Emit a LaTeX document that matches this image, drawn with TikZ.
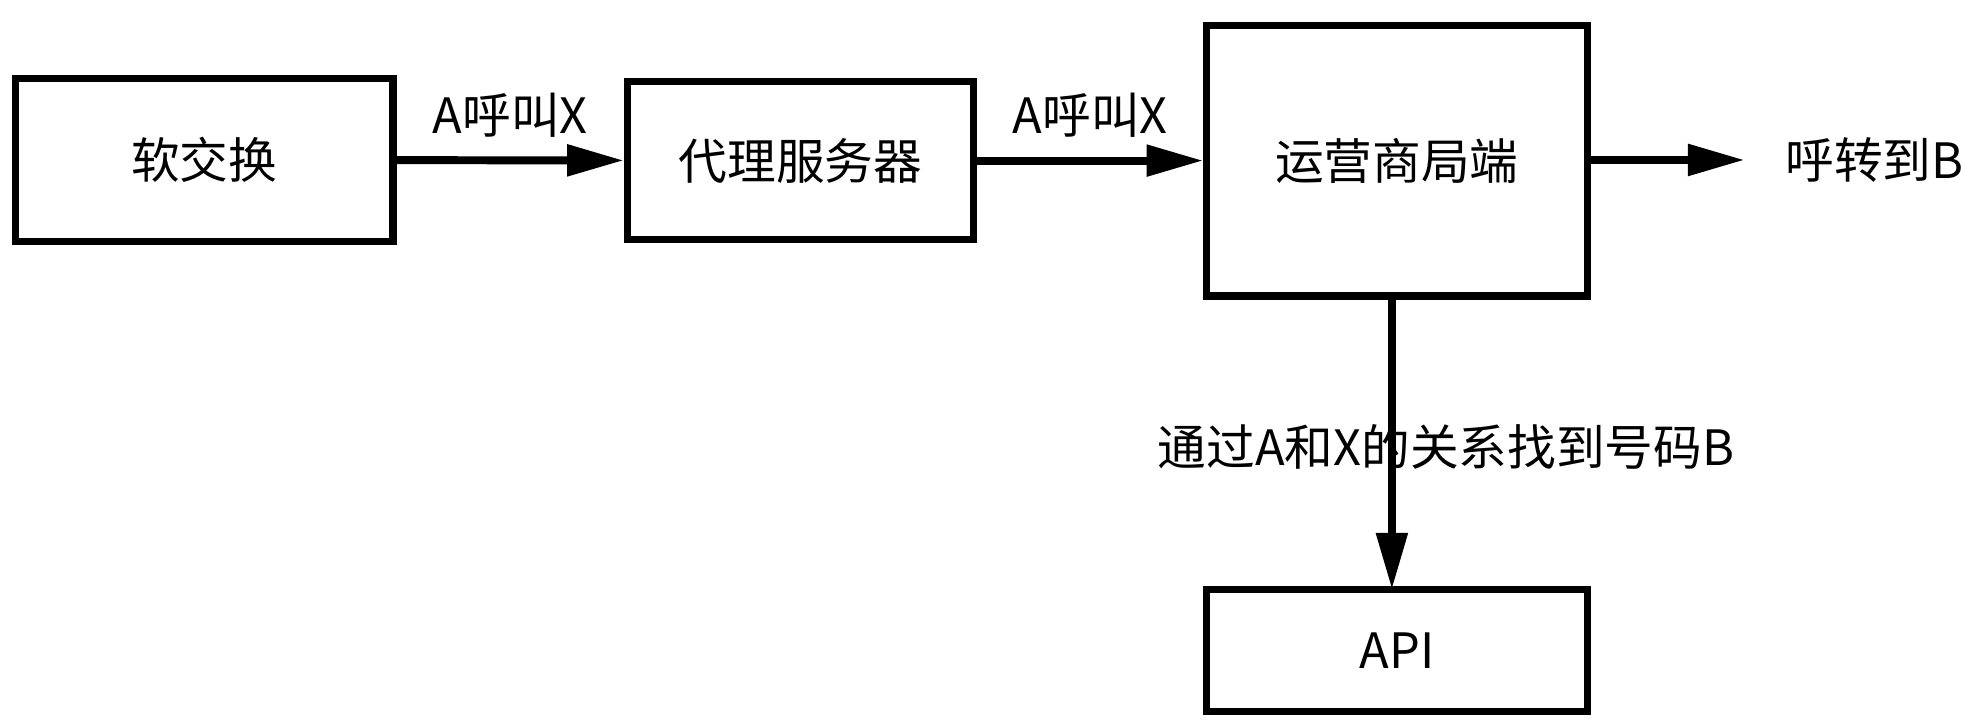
\documentclass[tikz,border=0pt]{standalone}
\usepackage{fontspec}
\setmainfont{Noto Sans CJK SC}
\usetikzlibrary{positioning,arrows.meta}

\tikzset{
  blk/.style={draw,line width=1.6pt,inner sep=0pt,font=\fontsize{11pt}{12pt}\selectfont},
  conn/.style={line width=1.8pt,-{Triangle[length=0.45cm,width=0.24cm]}},
  lbl/.style={font=\fontsize{11pt}{12pt}\selectfont}
}

\begin{document}
\begin{tikzpicture}
    \useasboundingbox (0,0) rectangle (15.6,-5.75);

    \node[blk,minimum width=3.0cm,minimum height=1.3cm] (soft) at (1.62,-1.27) {软交换};
    \node[blk,minimum width=2.75cm,minimum height=1.25cm] (proxy) at (6.355,-1.275) {代理服务器};
    \node[blk,minimum width=3.02cm,minimum height=2.15cm] (op) at (11.09,-1.275) {运营商局端};
    \node[blk,minimum width=3.02cm,minimum height=0.97cm] (api) at (11.09,-5.165) {API};
    \coordinate (out) at (13.85,-1.27);
    \node[lbl,anchor=west] (fwd) at (14.05,-1.27) {呼转到B};

    \draw[conn] (soft) -- node[lbl,above=1pt] {A呼叫X} (proxy);
    \draw[conn] (proxy) -- node[lbl,above=1pt] {A呼叫X} (op.west |- proxy);
    \draw[conn] (op.east |- out) -- (out);
    \draw[conn] (11.05,-2.35) -- (11.05,-4.68);
    \node[lbl] (find) at (11.48,-3.55) {通过A和X的关系找到号码B};
\end{tikzpicture}
\end{document}
